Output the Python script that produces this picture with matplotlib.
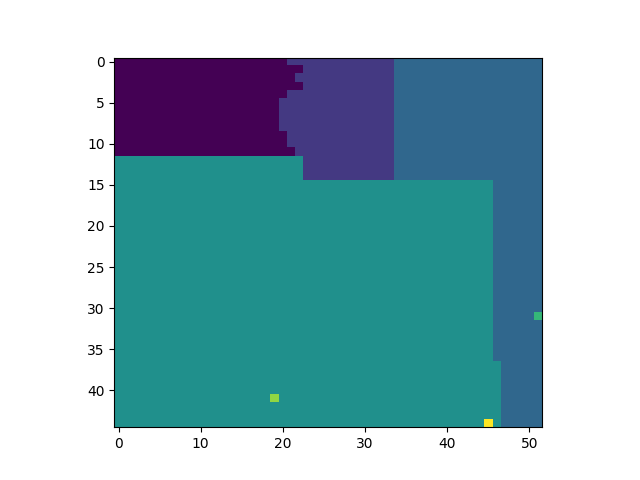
import numpy as np
import matplotlib
matplotlib.use("Agg")
import matplotlib.pyplot as plt

n_rows, n_cols = 45, 52

# label of each region
label_dark, label_purple, label_blue, label_teal = 0, 1, 2, 3
label_green, label_lime, label_yellow = 4, 5, 6

# rows 0..11: number of columns of the dark region per row
dark_widths = [21, 23, 22, 23, 21, 20, 20, 20, 20, 21, 21, 22]
# purple region extends to this column (exclusive) in rows 0..14
purple_end = 34
# rows 12..14: teal occupies first 23 columns
teal_top_width = 23
teal_top_rows = [12, 13, 14]
# rows 15..44: teal width per row
teal_widths = [46] * 22 + [47] * 8

# single-pixel labels: (row, col, label)
specks = [(31, 51, label_green), (41, 19, label_lime), (44, 45, label_yellow)]

img = np.full((n_rows, n_cols), label_blue)
for r, w in enumerate(dark_widths):
    img[r, :w] = label_dark
    img[r, w:purple_end] = label_purple
for r in teal_top_rows:
    img[r, :teal_top_width] = label_teal
    img[r, teal_top_width:purple_end] = label_purple
for i, w in enumerate(teal_widths):
    img[15 + i, :w] = label_teal
for r, c, v in specks:
    img[r, c] = v

fig, ax = plt.subplots(figsize=(6.4, 4.8), dpi=100)
ax.imshow(img, cmap="viridis", vmin=0, vmax=6)
fig.savefig("out.png")
